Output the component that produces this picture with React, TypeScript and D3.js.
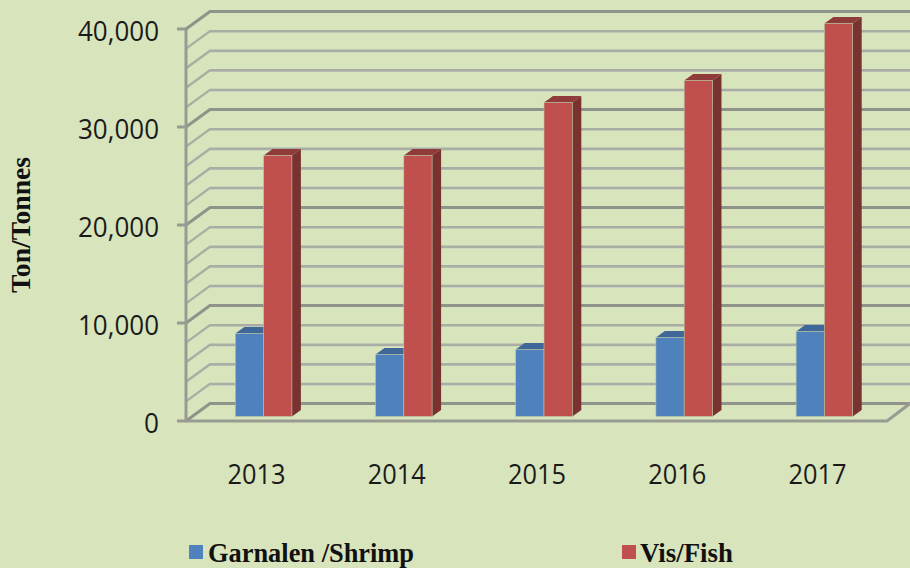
import React from "react";
import * as d3 from "d3";

const years = ["2013", "2014", "2015", "2016", "2017"];
const shrimp = [8470, 6330, 6840, 8060, 8670];
const fish = [26630, 26630, 32040, 34285, 40100];
const gridValues = d3.range(0, 40001, 2000);
const tickValues = [0, 10000, 20000, 30000, 40000];
const seriesNames = ["Garnalen /Shrimp", "Vis/Fish"];

const W = 910, H = 568;
const frontLeft = 186, frontRight = 887, frontBase = 421, frontTop = 29;
const wallDx = 24, wallDy = -17.5;
const barOffsetY = -4.5, barW = 28.3, sideDx = 9, sideDy = -6.5;

const y = d3.scaleLinear().domain([0, 40000]).range([frontBase, frontTop]);
const x = d3.scaleBand<string>().domain(years).range([frontLeft, frontRight]);
const fmt = d3.format(",");
const sansFont = "'Open Sans', 'Noto Sans', sans-serif";
const serifFont = "'Liberation Serif', serif";

function Bar({ left, value, front, side, top }: { left: number; value: number; front: string; side: string; top: string }) {
  const b = y(0) + barOffsetY;
  const t = y(value) + barOffsetY;
  const r = left + barW;
  return (
    <g>
      <polygon points={`${r},${t} ${r + sideDx},${t + sideDy} ${r + sideDx},${b + sideDy} ${r},${b}`} fill={side} />
      <polygon points={`${left},${t} ${left + sideDx},${t + sideDy} ${r + sideDx},${t + sideDy} ${r},${t}`} fill={top} />
      <rect x={left} y={t} width={barW} height={b - t} fill={front} stroke="#b9c9a4" strokeWidth={0.6} />
    </g>
  );
}

export default function App() {
  return (
    <svg width={W} height={H} viewBox={`0 0 ${W} ${H}`} style={{ position: "absolute", left: 0, top: 0, background: "#d8e4bc" }}>
      {gridValues.map((v) => {
        const major = v % 10000 === 0;
        const color = major ? "#8f9389" : "#a9ada3";
        const yy = y(v);
        return (
          <g key={v} fill="none" stroke={color}>
            {!major && (
              <polyline points={`${frontLeft + wallDx},${yy + wallDy + 1} ${W},${yy + wallDy + 1}`} stroke="#c6cabf" strokeWidth={1.5} />
            )}
            <polyline points={`${frontLeft},${yy} ${frontLeft + wallDx},${yy + wallDy} ${W},${yy + wallDy}`} strokeWidth={major ? 3 : 2.4} />
          </g>
        );
      })}
      {/* floor front edge and side */}
      <polyline points={`${frontLeft},${frontBase} ${frontRight},${frontBase} ${W},${frontBase + wallDy}`} fill="none" stroke="#979b91" strokeWidth={3} />
      {/* value axis */}
      <line x1={frontLeft} x2={frontLeft} y1={frontTop} y2={frontBase} stroke="#979b91" strokeWidth={3} />
      {tickValues.map((v) => (
        <g key={v}>
          <line x1={177} x2={frontLeft} y1={y(v)} y2={y(v)} stroke="#979b91" strokeWidth={3} />
          <text x={159} y={y(v) + 11.5} textAnchor="end" fontFamily={sansFont} fontSize={27.5} fontWeight={400} fill="#1a1a1a" textLength={fmt(v).length > 1 ? 81 : 15} lengthAdjust="spacingAndGlyphs">{fmt(v)}</text>
        </g>
      ))}
      {years.map((yr, i) => {
        const c = x(yr)! + x.bandwidth() / 2 + 7.5;
        return (
          <g key={yr}>
            <Bar left={c - barW} value={shrimp[i]} front="#4f81bd" side="#385d8a" top="#3f6797" />
            <Bar left={c} value={fish[i]} front="#c0504d" side="#7a3230" top="#8f3b39" />
            <text x={x(yr)! + x.bandwidth() / 2 + 0.5} y={484} textAnchor="middle" fontFamily={sansFont} fontSize={27} fontWeight={400} fill="#1a1a1a" textLength={58} lengthAdjust="spacingAndGlyphs">{yr}</text>
          </g>
        );
      })}
      <text transform="translate(30,225) rotate(-90)" textAnchor="middle" fontFamily={serifFont} fontWeight="bold" fontSize={27} fill="#111" textLength={136} lengthAdjust="spacingAndGlyphs">Ton/Tonnes</text>
      <rect x={189} y={545} width={14} height={14} fill="#4f81bd" />
      <text x={208} y={562} fontFamily={serifFont} fontWeight="bold" fontSize={26.4} fill="#111">{seriesNames[0]}</text>
      <rect x={622} y={545} width={14} height={14} fill="#c0504d" />
      <text x={640} y={562} fontFamily={serifFont} fontWeight="bold" fontSize={26.8} fill="#111">{seriesNames[1]}</text>
    </svg>
  );
}
